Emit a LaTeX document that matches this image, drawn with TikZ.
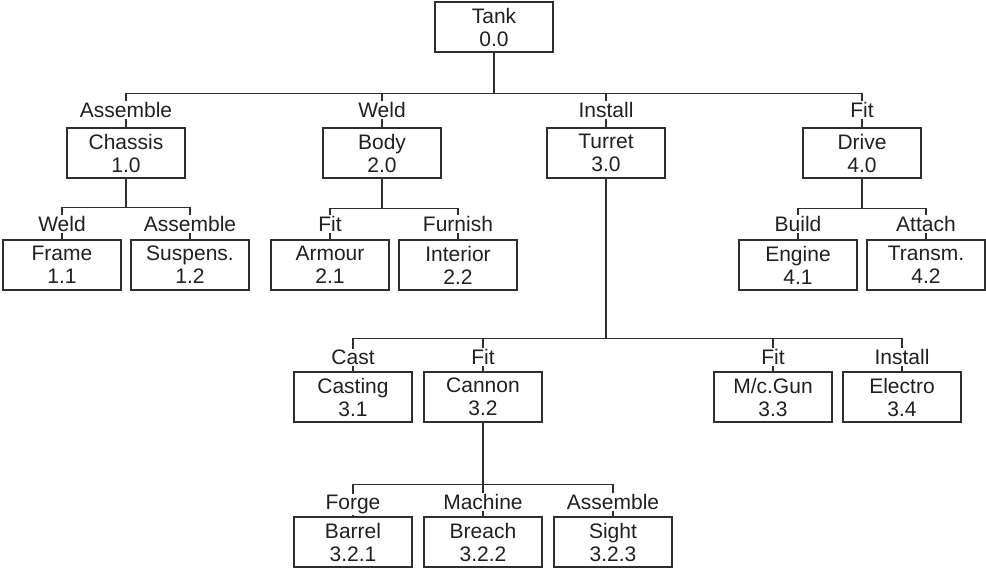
\documentclass[tikz,border=0pt]{standalone}
\usepackage{fontspec}
\setmainfont{Liberation Sans}
\definecolor{lc}{HTML}{2E2E2E}
\definecolor{tc}{HTML}{231F20}
\begin{document}
\begin{tikzpicture}[x=1pt,y=-1pt,
  box/.style={draw=lc, line width=1.1pt, minimum width=118pt, minimum height=50pt, inner sep=0pt, align=center, font=\fontsize{21}{23}\selectfont, text=tc},
  lbl/.style={fill=white, inner sep=1pt, anchor=base, font=\fontsize{21}{23}\selectfont, text=tc},
  conn/.style={draw=lc, line width=1.1pt}]
\useasboundingbox (0,0) rectangle (986,573);
% boxes
\node[box] (tank) at (494,27) {Tank\\0.0};
\node[box] (chassis) at (126,153) {Chassis\\1.0};
\node[box] (body) at (382,153) {Body\\2.0};
\node[box] (turret) at (606,153) {Turret\\3.0};
\node[box] (drive) at (862,153) {Drive\\4.0};
\node[box] (frame) at (62,265) {Frame\\1.1};
\node[box] (susp) at (190,265) {Suspens.\\1.2};
\node[box] (armour) at (330,265) {Armour\\2.1};
\node[box] (interior) at (458,265) {Interior\\2.2};
\node[box] (engine) at (798,265) {Engine\\4.1};
\node[box] (transm) at (926,265) {Transm.\\4.2};
\node[box] (casting) at (353,397) {Casting\\3.1};
\node[box] (cannon) at (483,397) {Cannon\\3.2};
\node[box] (mcgun) at (773,397) {M/c.Gun\\3.3};
\node[box] (electro) at (902,397) {Electro\\3.4};
\node[box] (barrel) at (353,542) {Barrel\\3.2.1};
\node[box] (breach) at (483,542) {Breach\\3.2.2};
\node[box] (sight) at (613,542) {Sight\\3.2.3};
% bus coordinates
\path (tank.south) ++(0,41) coordinate (b0);
\path (chassis.south) ++(0,29) coordinate (b1);
\path (body.south) ++(0,30) coordinate (b2);
\path (drive.south) ++(0,30) coordinate (b4);
\path (turret.south) ++(0,160) coordinate (b3);
\path (cannon.south) ++(0,62) coordinate (b32);
% connectors
\draw[conn] (tank.south) -- (b0);
\draw[conn] (chassis.north) -- (chassis.north |- b0) -- (drive.north |- b0) -- (drive.north);
\draw[conn] (body.north) -- (body.north |- b0);
\draw[conn] (turret.north) -- (turret.north |- b0);
\draw[conn] (chassis.south) -- (b1);
\draw[conn] (frame.north) -- (frame.north |- b1) -- (susp.north |- b1) -- (susp.north);
\draw[conn] (body.south) -- (b2);
\draw[conn] (armour.north) -- (armour.north |- b2) -- (interior.north |- b2) -- (interior.north);
\draw[conn] (drive.south) -- (b4);
\draw[conn] (engine.north) -- (engine.north |- b4) -- (transm.north |- b4) -- (transm.north);
\draw[conn] (turret.south) -- (b3);
\draw[conn] (casting.north) -- (casting.north |- b3) -- (electro.north |- b3) -- (electro.north);
\draw[conn] (cannon.north) -- (cannon.north |- b3);
\draw[conn] (mcgun.north) -- (mcgun.north |- b3);
\draw[conn] (cannon.south) -- (b32);
\draw[conn] (barrel.north) -- (barrel.north |- b32) -- (sight.north |- b32) -- (sight.north);
\draw[conn] (breach.north) -- (breach.north |- b32);
% labels
\path (chassis.north) ++(0,-10) node[lbl] (lchassis) {Assemble};
\path (body.north) ++(0,-10) node[lbl] (lbody) {Weld};
\path (turret.north) ++(0,-10) node[lbl] (lturret) {Install};
\path (drive.north) ++(0,-10) node[lbl] (ldrive) {Fit};
\path (frame.north) ++(0,-8) node[lbl] (lframe) {Weld};
\path (susp.north) ++(0,-8) node[lbl] (lsusp) {Assemble};
\path (armour.north) ++(0,-8) node[lbl] (larmour) {Fit};
\path (interior.north) ++(0,-8) node[lbl] (linterior) {Furnish};
\path (engine.north) ++(0,-8) node[lbl] (lengine) {Build};
\path (transm.north) ++(0,-8) node[lbl] (ltransm) {Attach};
\path (casting.north) ++(0,-7) node[lbl] (lcasting) {Cast};
\path (cannon.north) ++(0,-7) node[lbl] (lcannon) {Fit};
\path (mcgun.north) ++(0,-7) node[lbl] (lmcgun) {Fit};
\path (electro.north) ++(0,-7) node[lbl] (lelectro) {Install};
\path (barrel.north) ++(0,-7) node[lbl] (lbarrel) {Forge};
\path (breach.north) ++(0,-7) node[lbl] (lbreach) {Machine};
\path (sight.north) ++(0,-7) node[lbl] (lsight) {Assemble};
\end{tikzpicture}
\end{document}
